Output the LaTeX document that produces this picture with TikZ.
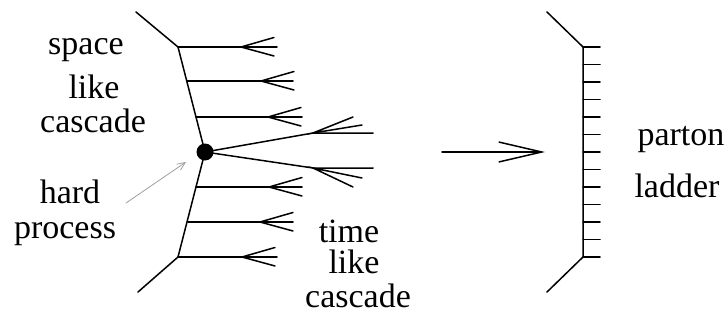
\documentclass[tikz,border=0pt]{standalone}
\usepackage{fontspec}
\setmainfont{Liberation Serif}
\usetikzlibrary{arrows.meta,calc}
\begin{document}
\begin{tikzpicture}[x=1pt,y=-1pt,
  line cap=round,
  leg/.style={line width=1.5pt},
  lbl/.style={anchor=base,inner sep=0pt,font=\fontsize{34}{34}\selectfont},
  feather/.pic={\draw[leg] (33,-9.5) -- (0,0) -- (33,9);}
]
\useasboundingbox (0,0) rectangle (728,329);

% spine of the cascade
\coordinate (in1) at (136,12);
\coordinate (k1) at (178,47);
\coordinate (hp) at (205,152);
\coordinate (k2) at (178,257);
\coordinate (in2) at (138,292);
\draw[leg] (in1) -- (k1) -- (hp) -- (k2) -- (in2);

% space-like emissions (upper side)
\coordinate (s1) at (187,81);
\coordinate (s2) at (196,117);
\coordinate (e1) at (277,47);
\coordinate (e2) at (293,81);
\coordinate (e3) at (302,117);
\draw[leg] (k1) -- (e1);
\draw[leg] (s1) -- (e2);
\draw[leg] (s2) -- (e3);
\pic at (241,47) {feather};
\pic at (261,81) {feather};
\pic at (268,117) {feather};

% lower side
\coordinate (s3) at (196,187);
\coordinate (s4) at (188,222);
\coordinate (e4) at (302,187);
\coordinate (e5) at (293,222);
\coordinate (e6) at (277,257);
\draw[leg] (s3) -- (e4);
\draw[leg] (s4) -- (e5);
\draw[leg] (k2) -- (e6);
\pic at (269,187) {feather};
\pic at (260,222) {feather};
\pic at (242,257) {feather};

% outgoing partons of the hard process
\coordinate (v1) at (313,133);
\coordinate (o1) at (373,133);
\coordinate (v2) at (313,168);
\coordinate (o2) at (373,168);
\draw[leg] (hp) -- (v1) -- (o1);
\draw[leg] (hp) -- (v2) -- (o2);
\draw[leg] (353,117) -- (v1) -- (362,125);
\draw[leg] (362,178) -- (v2) -- (353,187);

\fill (hp) circle (8.5);

% labels
\node[lbl] (t1) at (86,55) {space};
\node[lbl] (t2) at (94,98) {like};
\node[lbl] (t3) at (93,132) {cascade};
\node[lbl] (t4) at (70,203) {hard};
\node[lbl] (t5) at (65,238) {process};
\node[lbl] (t6) at (349,242) {time};
\node[lbl] (t7) at (354,273) {like};
\node[lbl] (t8) at (358,307) {cascade};
\node[lbl] (t9) at (681,145) {parton};
\node[lbl] (t10) at (677,197) {ladder};

% pointer to the hard process
\coordinate (pa) at (126,203);
\coordinate (pb) at (186,162);
\draw[gray!75,line width=0.8pt,-{Straight Barb[length=8pt,width=7pt]}] (pa) -- (pb);

% main arrow
\coordinate (ma) at (442,152);
\coordinate (mb) at (545,152);
\draw[leg,-{Straight Barb[length=43pt,width=20pt,line width=1.5pt]}] (ma) -- (mb);

% parton ladder
\coordinate (l0) at (547,12);
\coordinate (l1) at (583,47);
\coordinate (l2) at (583,257);
\coordinate (l3) at (547,292);
\draw[leg] (l0) -- (l1) -- (l2) -- (l3);
\foreach \i in {0,...,12}
  \draw[leg] ($(l1)+(0,17.5*\i)$) -- ++(17,0);
\end{tikzpicture}
\end{document}
